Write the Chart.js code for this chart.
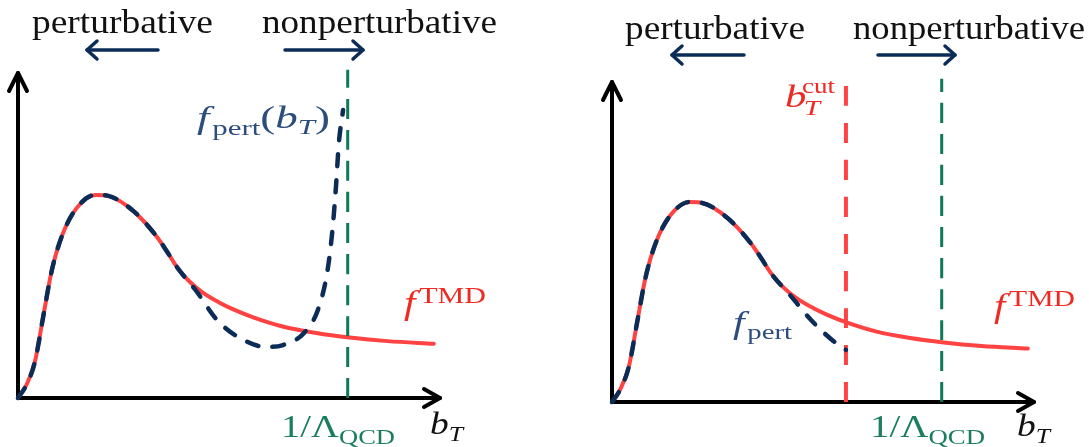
<!DOCTYPE html>
<html>
<head>
<meta charset="utf-8">
<script src="https://cdn.jsdelivr.net/npm/chart.js@4"></script>
<style>
    body { margin: 0; background: #fff; }
    canvas { position: absolute; top: 0; }
</style>
</head>
<body>
<canvas id="leftChart" width="545" height="447" style="left:0"></canvas>
<canvas id="rightChart" width="544" height="447" style="left:545px"></canvas>
<script>
// f^TMD, same curve in both panels
const tmdX = [0, 0.2, 0.4, 0.6, 0.8, 1.05, 1.4, 1.85, 2.15, 2.75, 3.3, 3.55, 3.8, 4.1, 4.4, 4.8, 5.1, 5.6, 6.3, 7.1, 7.9, 8.8, 9.9];
const tmdY = [0, 0.4, 1.1, 2.5, 3.9, 5.0, 5.85, 6.25, 6.22, 5.75, 4.97, 4.5, 4.0, 3.56, 3.24, 2.93, 2.74, 2.48, 2.2, 2.0, 1.86, 1.75, 1.67];

// f_pert(b_T), left panel: blows up near 1/Lambda
const pertLeftX = [0, 0.2, 0.4, 0.6, 0.8, 1.05, 1.4, 1.85, 2.15, 2.75, 3.3, 3.55, 3.8, 4.24, 4.74, 5.24, 5.9, 6.31, 6.81, 7.14, 7.36, 7.48, 7.57, 7.64, 7.74];
const pertLeftY = [0, 0.4, 1.1, 2.5, 3.9, 5.0, 5.85, 6.25, 6.22, 5.75, 4.97, 4.5, 4.0, 3.3, 2.4, 1.88, 1.57, 1.63, 2.0, 2.71, 3.85, 5.08, 6.49, 7.85, 8.86];

// f_pert, right panel: stops at b_T^cut
const pertRightX = [0, 0.2, 0.4, 0.6, 0.8, 1.05, 1.4, 1.85, 2.15, 2.75, 3.3, 3.55, 3.8, 4.24, 4.74, 5.24, 5.57];
const pertRightY = [0, 0.4, 1.1, 2.5, 3.9, 5.0, 5.85, 6.25, 6.22, 5.75, 4.97, 4.5, 4.0, 3.34, 2.56, 1.94, 1.63];

const lambdaX = 7.85;     // 1/Lambda_QCD
const lambdaTop = 10.1;
const cutX = 5.57;        // b_T^cut
const cutTop = 10;

const RED = '#ff4242';
const RED_TEXT = '#ee2a22';
const NAVY = '#0c2c58';
const BLUE_TEXT = '#2d4d7d';
const GREEN = '#0d7a55';
const GREEN_TEXT = '#1a7d5b';
const FONT = '"Liberation Serif", "Times New Roman", serif';

function pts(xs, ys) {
    return xs.map((x, i) => ({ x: x, y: ys[i] }));
}

// draw a little TeX-like string: parts = [text, size, italic, dy, dx]
function tex(ctx, x, y, parts, color, width) {
    ctx.save();
    ctx.fillStyle = color;
    ctx.textBaseline = 'alphabetic';
    let total = 0;
    parts.forEach(p => {
        ctx.font = (p[2] ? 'italic ' : '') + p[1] + 'px ' + FONT;
        total += ctx.measureText(p[0]).width + (p[4] || 0);
    });
    const sx = width ? width / total : 1;
    ctx.translate(x, y);
    ctx.scale(sx, 1);
    let cx = 0;
    parts.forEach(p => {
        ctx.font = (p[2] ? 'italic ' : '') + p[1] + 'px ' + FONT;
        cx += p[4] || 0;
        ctx.fillText(p[0], cx, p[3] || 0);
        cx += ctx.measureText(p[0]).width;
    });
    ctx.restore();
}

function arrow(ctx, x1, y1, x2, y2, color, lw, len, half) {
    const a = Math.atan2(y2 - y1, x2 - x1);
    ctx.save();
    ctx.strokeStyle = color;
    ctx.lineWidth = lw;
    ctx.lineCap = 'round';
    ctx.lineJoin = 'round';
    ctx.beginPath();
    ctx.moveTo(x1, y1);
    ctx.lineTo(x2, y2);
    ctx.stroke();
    const c = Math.cos(a), s = Math.sin(a);
    ctx.beginPath();
    ctx.moveTo(x2 - len * c + half * s, y2 - len * s - half * c);
    ctx.lineTo(x2, y2);
    ctx.lineTo(x2 - len * c - half * s, y2 - len * s + half * c);
    ctx.stroke();
    ctx.restore();
}

const axesPlugin = {
    id: 'axesPlugin',
    beforeDatasetsDraw(chart) {
        const ctx = chart.ctx;
        const a = chart.chartArea;
        arrow(ctx, a.left, a.bottom, a.left, a.top, '#000', 4, 18, 9);
        arrow(ctx, a.left, a.bottom, a.right + 2, a.bottom, '#000', 4, 16, 9);
    },
    afterDraw(chart) {
        const o = chart.options.plugins.axesPlugin;
        const ctx = chart.ctx;
        o.arrows.forEach(r => arrow(ctx, r[0], r[2], r[1], r[2], NAVY, 3.5, 10, 9));
        o.labels.forEach(l => tex(ctx, l.x, l.y, l.parts, l.color, l.width));
    }
};

// chart.js draws the first dataset on top, so the list goes top -> bottom
function line(data, color, width, dash, cap) {
    return {
        data: data,
        borderColor: color,
        borderWidth: width,
        borderDash: dash || [],
        borderCapStyle: cap || 'round',
        pointRadius: 0,
        cubicInterpolationMode: 'monotone',
        fill: false,
        clip: false
    };
}

function makeChart(id, datasets, pad, arrows, labels) {
    return new Chart(document.getElementById(id), {
        type: 'line',
        data: { datasets: datasets },
        options: {
            responsive: false,
            animation: false,
            events: [],
            layout: { padding: pad },
            scales: {
                x: { type: 'linear', min: 0, max: 10, display: false },
                y: { type: 'linear', min: 0, max: 10, display: false }
            },
            plugins: {
                legend: { display: false },
                tooltip: { enabled: false },
                axesPlugin: { arrows: arrows, labels: labels }
            }
        },
        plugins: [axesPlugin]
    });
}

const bigPert = [['perturbative', 33, false]];
const bigNon = [['nonperturbative', 33, false]];
const tmdLabel = [['f', 33, true], ['TMD', 24, false, -11, 3]];
const lambdaLabel = [['1/Λ', 32, false], ['QCD', 22, false, 7]];
const bLabel = [['b', 32, true], ['T', 22, true, 7]];

makeChart('leftChart', [
    line(pts(pertLeftX, pertLeftY), NAVY, 4.5, [12, 14]),
    line(pts([lambdaX, lambdaX], [0, lambdaTop]), GREEN, 3, [20, 11], 'butt'),
    line(pts(tmdX, tmdY), RED, 4)
], { left: 18, right: 107, top: 73, bottom: 49 },
[[158, 87, 50], [285, 363, 50]],
[
    { x: 32, y: 33, parts: bigPert, color: '#111', width: 181 },
    { x: 262, y: 33, parts: bigNon, color: '#111', width: 235 },
    { x: 197, y: 128, parts: [['f', 32, true], ['pert', 22, false, 7, 2], ['(', 32, false], ['b', 32, true], ['T', 22, true, 6], [')', 32, false]], color: BLUE_TEXT, width: 133 },
    { x: 404, y: 314, parts: tmdLabel, color: RED_TEXT, width: 82 },
    { x: 281, y: 437, parts: lambdaLabel, color: GREEN_TEXT, width: 114 },
    { x: 430, y: 434, parts: bLabel, color: '#111', width: 33 }
]);

makeChart('rightChart', [
    line(pts(pertRightX, pertRightY), NAVY, 4.5, [12, 14]),
    line(pts([lambdaX, lambdaX], [0, lambdaTop]), GREEN, 3, [20, 11], 'butt'),
    line(pts([cutX, cutX], [0, cutTop]), RED, 4, [20, 17], 'butt'),
    line(pts(tmdX, tmdY), RED, 4)
], { left: 67, right: 57, top: 82, bottom: 45 },
[[199, 127, 55], [333, 410, 55]],
[
    { x: 80, y: 39, parts: bigPert, color: '#111', width: 180 },
    { x: 308, y: 39, parts: bigNon, color: '#111', width: 232 },
    { x: 240, y: 107, parts: [['b', 32, true], ['T', 22, true, 8, -2]], color: RED_TEXT, width: 35 },
    { x: 257, y: 93, parts: [['cut', 22, false]], color: RED_TEXT, width: 33 },
    { x: 188, y: 333, parts: [['f', 32, true], ['pert', 22, false, 6, 2]], color: BLUE_TEXT, width: 59 },
    { x: 449, y: 317, parts: tmdLabel, color: RED_TEXT, width: 81 },
    { x: 325, y: 437, parts: lambdaLabel, color: GREEN_TEXT, width: 115 },
    { x: 472, y: 436, parts: bLabel, color: '#111', width: 33 }
]);
</script>
</body>
</html>
